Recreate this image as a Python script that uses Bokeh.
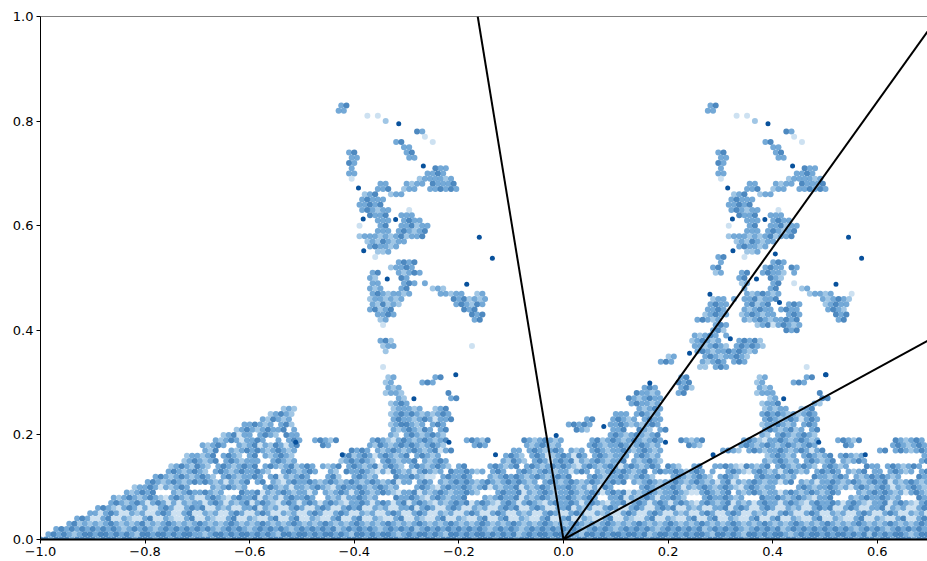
from bokeh.plotting import figure
from bokeh.models import ColumnDataSource, FixedTicker, Range1d, Span
from bokeh.embed import file_html
from bokeh.resources import INLINE

x_ticks = [-1.0, -0.8, -0.6, -0.4, -0.2, 0.0, 0.2, 0.4, 0.6]
y_ticks = [0.0, 0.2, 0.4, 0.6, 0.8, 1.0]
ray_end_x = [-0.164, 0.696, 0.696]
ray_end_y = [1.0, 0.971, 0.380]

dark_x = [-0.315,-0.268,-0.392,-0.383,-0.321,-0.382,-0.337,-0.185,-0.161,-0.136,
          0.391,0.438,0.314,0.323,0.385,0.324,0.369,0.521,0.545,0.570,
          0.405,0.413,0.280,0.241,0.319,0.501,-0.206,-0.286,-0.423,-0.512,
          -0.219,-0.130,-0.014,0.077,0.165,0.421,0.502,0.195,0.488,0.577,0.286]
dark_y = [0.795,0.714,0.672,0.613,0.612,0.552,0.498,0.488,0.578,0.538,
          0.795,0.714,0.672,0.613,0.612,0.552,0.498,0.488,0.578,0.538,
          0.546,0.453,0.469,0.356,0.384,0.315,0.315,0.269,0.162,0.186,
          0.186,0.162,0.199,0.216,0.299,0.269,0.315,0.186,0.186,0.162,0.162]

# Scatter density: cells 0.01 wide, ten columns per token, "-" = ten empty.
left_tower_x0 = -0.45
left_tower = {
0.83:"__#@",0.82:"__##",0.81:"_______._.",0.80:"- _+",
0.78:"- _______@#",0.77:"- ________.",0.76:"- ___#@ .",0.75:"- ____##",
0.74:"____#@ _____#@",0.73:"____## _____##",0.72:"____@#",0.71:"____# - @##",
0.70:"____## _________# #@#",0.69:"____. _______+## ##+#",0.68:"- ##___#+## @###@",
0.67:"_________# #@__+##__# #@#@#",0.66:"_______+#@ __+##",0.65:"______#@## #",
0.64:"______##@# @",0.63:"______#@#+ ##___.",0.62:"________@# #@__###",
0.61:"_________# ##__#@##",0.60:"______.___ #@__##@+##",0.59:"_________# ##_#@#+#@",
0.58:"______+### +#+#@+##@",0.57:"_______+#+ @#+##",0.56:"________#@ ##+#",
0.55:"_________+ +#",0.54:"_________.",0.53:"- ___#@#@",0.52:"- __+##@#",
0.51:"________#@ ___#+#@#",0.50:"________#+ ____@#",0.49:"________## ____#@#_#",
0.48:"________#+ #___#@ +#+",0.47:"________#@ #+##+# _##+##__+#",
0.46:"________+# #+#+# ____@#@+#+ #",0.45:"________#+ @+#+ ____#@#+@#",
0.44:"________#@ +#@ ______@#@",0.43:"_________# #@# _______@#@",0.42:"- +# ________#@",
0.41:"- .",0.38:"- #@+",0.37:"- +## _______.",0.36:"- _+",
}

right_tower_x0 = 0.156
right_tower = {
0.83:"- __#@",0.82:"- __##",0.81:"- _______._.",0.80:"- - _+",
0.78:"- - _______@#",0.77:"- - ________.",0.76:"- - ___#@ .",0.75:"- - ____##",
0.74:"- ____#@ _____#@",0.73:"- ____## _____##",0.72:"- ____@#",0.71:"- ____# - @##",
0.70:"- ____## _________# #@#",0.69:"- ____. _______+## ##+#",0.68:"- - ##___#+## @###@",
0.67:"- _________# #@__+##__# #@#@#",0.66:"- _______+#@ __+##",0.65:"- ______#@## #",
0.64:"- ______##@# @",0.63:"- ______#@#+ ##___.",0.62:"- ________@# #@__###",
0.61:"- _________# ##__#@##",0.60:"- ______.___ #@__##@+##",0.59:"- _________# ##_#@#+#@",
0.58:"- ______+### +#+#@+##@",0.57:"- _______+#+ @#+##",0.56:"- ________#@ ##+#",
0.55:"- _________+ +#",
0.54:"- ____#@___.",0.53:"- ____#___ ____#@#",0.52:"- ___#@ ___#@##_@#",
0.51:"- ___+#___#@ __#@##+_#",0.50:"- ________#@ ____@#+",0.49:"- ________+# ____#@__.",
0.48:"- _________# ____#@____ +#",0.47:"- _________# +#@#+# _+##+#___.",
0.46:"- ___+##_#_# #@+##@ ____#+#@#+",0.45:"- __#@##___# @+#@___#@# ____+#@##",
0.44:"- __##@#___# +#@##_#@## _____#@#+",0.43:"- _+#@##__+# @#+##__#@# ______@#@",
0.42:"- #@#+#____# +#@#+##@#@ _______#@",0.41:"- ___#@# _+#@.#@#+#",0.40:"- ___#@+ _______@#@",
0.39:"_________# +#@#_#",0.38:"_________+ #@#+#___#@ #@+",0.37:"_________# #+#@#+_#@# @#+",
0.36:"- #@#+##@#@# +#",0.35:"____+# _#@#+##@#+",0.34:"___#@# _#+#@#_#@#",0.33:"- ++_#@#",
}

base_x0 = -1.0
base = {
0.33:"- - - - - - _____. - - - - - - - ______.",
0.31:"- - - - - - ______+# _____#@ - - - - __#@ _______+# ______#@",
0.30:"- - - - - - ______+# ___#@# - - - - __@#@ _______+# ____#@#",
0.29:"- - - - - - ______#+# - - - - _____#@# __#@+ _______#+#",
0.28:"- - - - - - ______+##+ ________@ - - - ____@##+# __#@ _______+## #________@",
0.27:"- - - - - - ________#+ ________#@ - - - __@#+#@## - _________+ #________@ @",
0.26:"- - - - - - _______+#@ # - - - ___#@##+# - ________+# #@______#+",
0.25:"- - - - ______+#+ - _______+## #+#__+#@ - - - ____#+#@# - ________+# +##__+#@",
0.24:"- - - - ____+#@#+ - _______+#@ #@#+#+#@# - - - ###_#@#+# - ________#@ #@#+#+#@#",
0.23:"- - - - __#+@#+# - _______#@# #+#@#.##@ - - ____#@___# @#+#_#@## - ________#@ #+#@#.#@#",
0.22:"- - - _________# #@#+#_#@+ - _______+#@ @#+#_#@# - - _#@#@#___# #@#+#+#@# - ________+# #@#+#_#@#",
0.21:"- - - _______+#@ #+#@##@_# - _______#+# @#+@#_#@ - - __@#+____# #@__@#+_#@ - ________#@ #+#@+#_#@",
0.20:"- - - _____+#@.# #_#@#+_@## - _______#+_ #@#+#@#+ - - _________# @#+#@#+#@ - ________#+ _#@#+#@#+",
0.19:"- - - ___#+#@#.# #@#__#_#@# __#@#+@ ___#@#+.#@ #+#@#+#@ _#@#+@ __@#+#@#+# _____#@+#@ #+#@#+#@# __@#+#@ ____#@#+.# #@#+#@#+# __#@#+@ ___@#+#@#",
0.18:"- - - _#+#@#__#+ #@.#+@#.#@ ____@# ___#+@#+#@ #@#+#@#+ ___#@# ___#+#@#+# _____#@#+# #@#+#@#+# ____@#+ ____#@#+#@ #+#@#+#@# ____@# ___#@#+#@#",
0.17:"- - - _#+@__#+#@ #@#+#@#+# _________@ #@#_#+#@#+ #@#+#@.#@ - ##_#@#+#@# _#+#_#@#+# #@#+#@#+# - #@#+_#@#+# #@#+#@#.#@ - #@_#@#+#@#",
0.16:"- - ________+# #+#@_#@#+_ #@_#+#@#+ ________#@ +#@#.#@#+# @_#@#+# _________# @#+_#@#.+# @#.@#_#@#+ ###_#@#+# - _________+ #@#+#_#@#+ #@_#@#+# _________# #@#+_#@#+#",
0.15:"- - _______+#@ #+#@_#@#+# ##__#@#+# _______+#@ #@#+_#@#+# #@_#+#@# ________#+ @#+_#@#.#@ #@.#+#@#+# #@_#+#@#+ - ________#+ #@#+#_#@#+ #@_#+#@# ________#@ #+#_#@#+#@",
0.14:"- - _____+#@#+ @#+_#@#+#@ #@_#@#+#@+ #@#_#+#@_# @#+#@.#@#+ _#@#+#@#+ #@____#@#+ #@_#@#+#@# @#+.#@#+#@ #.#@#+#@# @#+__#@__# #@#+.@#+#@ _#@#+#@#+ #@#+#___@# #_#@#+#@#",
0.13:"- - ____#@#+#@ #+_#@#+#@# #@#+__#@#+ #@#__#+_@# #@#+.#.@#+ #.#@#+#_@# #@#+#_#@#_ _#@#+#@#+# #.#@#_#+#@ #@#+#@_#@# #@#+#@#_#_ _#@#+.#@#+ #.#@#+#_#@ #@#_#+#@_# #_#@#+#_#@",
0.12:"- - __#@#+#@#+ #@#+_#@#+# #@#_#@.#+# @#___#@+__ #@#+#___@# #@#+.._#@# #@#___#+#@ #@#+#@#+#@ #@___#@#+# #@#+#@#+__ _#@#+#@#+ #@#+___#@# #@#+#___@# #+#@#_#+#@ #@#+#___@#",
0.11:"- - #@#+#@#+#@ #@#+#.#+#@ _#@_#+.#@# #@#+#@#+#@ #+#@#+#@.# #_#@#_#+#@ #@#+#@#+#@ #@#+#_#@#+ #@#+#@#+#@ #@_#+#@#+# #@#+#@#+#. #@.#+#@#+# #.#@_#+#.# #@#+#@#+#@ #@.#+#@#+#",
0.10:"- ________+# #@#.#+#@#_ ___#+#@#+# ___#@#+#.# #+#@#+.#@# #@#+#@#+#_ __#@#+.#@# #@#+#@.#+# #@.#+#@#+# #@#+#.#.@# _____#@#+# #@#.#+#@#+ #@#+.#@#+# #____#@#+# #@#+#.#@#+ #@#.#+#@#+",
0.09:"- ______#+#@ #@___#+#@# #@#+#___@# #@.#+#@#+# #.#_#+#@#. #@#+#@#+.# #@.#+#@#+# #@#+___#@# #@.#+#@#+# #@#+#@#.#@ #@.#+#@#+# #@#+..#@#+ #@_#+#@#+# #.#@#+#@#+ #@#___#+#@ #@#+#.#@#+",
0.08:"- ____#+#@#+ #@#+.#@#+# ..#@#+.#@# #@.#+#.#@# #@#__#+#.# #@#+#___@# #@#+.#@#+# #@___#+#@# #@.#+#@#+# #@#+#@#__# #@.#+#@#.# #@#+___#@# #@#+#___@# #@#+#@#+.# #@___#+#@# #@#+#___@#",
0.07:"- ___#@#+#@# .#@#.#.#+# #.#@#.#+#@ .#@#+.#@#. #@#.#@#+.# #@#.#@#.#@ .#@#+.#+#@ #@.#@#+.#@ #.#@#+.#@# #@#.#@#+.# #@.#@#.#@# .#@#+.#@#+ #@.#+#.#@# #.#@#+.#@# #@#.#@#+.# #@.#@#+.#@",
0.06:"- _#@#+.#@#. #..#@#..#@ #@..#+#..# #@.#+#..#@ #..#@#..#@ #@..#+#..# #@.#@#..#@ #..#+#..#@ #@..#@#..# #@.#+#..#@ #..#@#..#@ #@..#+#..# #@.#@#..#@ #..#+#..#@ #@..#@#..# #@.#+#..#@",
0.05:"_________# #.#@#..#+# ..#@#..#@. .#+#..#@#. .#@#..#+#. .#@#..#@#. .#+#..#@#. .#@#..#+#. .#@#..#@#. .#+#..#@#. .#@#..#+#. .#@#..#@#. .#+#..#@#. .#@#..#+#. .#@#..#@#. .#+#..#@#. .#@#..#+#.",
0.04:"_______#@# ..#@..#+.. #@..#+..#@ ..#+..#@.. #+..#@..#@ ..#+..#@.. #@..#+..#@ ..#+..#@.. #+..#@..#@ ..#+..#@.. #@..#+..#@ ..#+..#@.. #+..#@..#@ ..#+..#@.. #@..#+..#@ ..#+..#@.. #+..#@..#@",
0.03:"_____#@+#+ #+#@#+#+#@ +#+#@#+#+# @#+#+#@#+# +#@#+#+#@# +#+#@#+#+# @#+#+#@#+# +#@#+#+#@# +#+#@#+#+# @#+#+#@#+# +#@#+#+#@# +#+#@#+#+# @#+#+#@#+# +#@#+#+#@# +#+#@#+#+# @#+#+#@#+# +#@#+#+#@#",
0.02:"___#@#@#@# @#@#@#+#@# @#+#@#@#@# @#@#+#@#@# +#@#@#@#+# @#@#@#@+#@ #@#@#+#@#@ #@+#@#@#@# @#@#@#+#@# @#+#@#@#@# @#@#+#@#@# +#@#@#@#+# @#@#@#@+#@ #@#@#+#@#@ #@+#@#@#@# @#@#@#+#@# @#+#@#@#@#",
0.01:"_#@#@#+#@@ #@@#@#@#+@ @#@@#@#@@# #+#@@#@#@@ #@#@#+@@#@ @#@#@@#@#+ @@#@#@@#+# @#@@#@#+@@ #@#@@#@#@# @+#@#@@#@@ #@#+@@#@#@ @#@@#@+#@@ #@#@#@@#+@ @#@#+@@#@# @@#+#@#@@# @#@@#@#@+@ #@#@@#+#@@",
0.00:"@@#@@@#@@@ @#@@@#@@#@ @@#@@#@@@# @@@#@@#@@@ #@@#@@@#@@ @#@@@#@@#@ @@#@@#@@@# @@@#@@#@@@ #@@#@@@#@@ @#@@@#@@#@ @@#@@#@@@# @@@#@@#@@@ #@@#@@@#@@ @#@@@#@@#@ @@#@@#@@@# @@@#@@#@@@ #@@#@@@#@@",
}

SHADES = {".": "#c4dcee", "+": "#8fbce0", "#": "#5c9ad0", "@": "#2f74b5"}

def decode(rows, x0):
    xs, ys, cs = [], [], []
    for y, text in rows.items():
        cells = "".join("_" * 10 if t == "-" else t.ljust(10, "_")[:10] for t in text.split())
        half = 0.005 if round(y * 100) % 2 else 0.0
        for i, ch in enumerate(cells):
            if ch in SHADES:
                xs.append(x0 + i * 0.01 + half)
                ys.append(y)
                cs.append(SHADES[ch])
    return xs, ys, cs

p = figure(width=927, height=561, output_backend="svg", toolbar_location=None,
           x_range=Range1d(-1.0, 0.696), y_range=Range1d(0.0, 1.0),
           min_border_left=40, min_border_right=0, min_border_top=16, min_border_bottom=22)
p.grid.visible = False
p.outline_line_color = None
p.add_layout(Span(location=1.0, dimension="width", line_color="black", line_width=1))

for rows, x0 in ((base, base_x0), (left_tower, left_tower_x0), (right_tower, right_tower_x0)):
    xs, ys, cs = decode(rows, x0)
    src = ColumnDataSource(dict(x=xs, y=ys, c=cs))
    p.scatter("x", "y", source=src, size=6, fill_color="c", fill_alpha=0.85, line_color=None)

p.scatter(dark_x, dark_y, size=5, fill_color="#08519c", line_color=None)

for ex, ey in zip(ray_end_x, ray_end_y):
    p.line([0, ex], [0, ey], line_color="black", line_width=2)

for ax, ticks in ((p.xaxis[0], x_ticks), (p.yaxis[0], y_ticks)):
    ax.ticker = FixedTicker(ticks=ticks)
    ax.major_label_overrides = {t: f"{t:.1f}".replace("-", "\u2212") for t in ticks}
    ax.major_label_text_font = "DejaVu Sans"
    ax.major_label_text_font_size = "13px"
    ax.major_label_text_color = "black"
    ax.axis_line_color = "black"
    ax.major_tick_line_color = "black"
    ax.major_tick_in = 0
    ax.major_tick_out = 4
    ax.minor_tick_line_color = None
    ax.major_label_standoff = 3
p.xaxis[0].axis_line_width = 2

open("out.html", "w").write(file_html(p, INLINE))
